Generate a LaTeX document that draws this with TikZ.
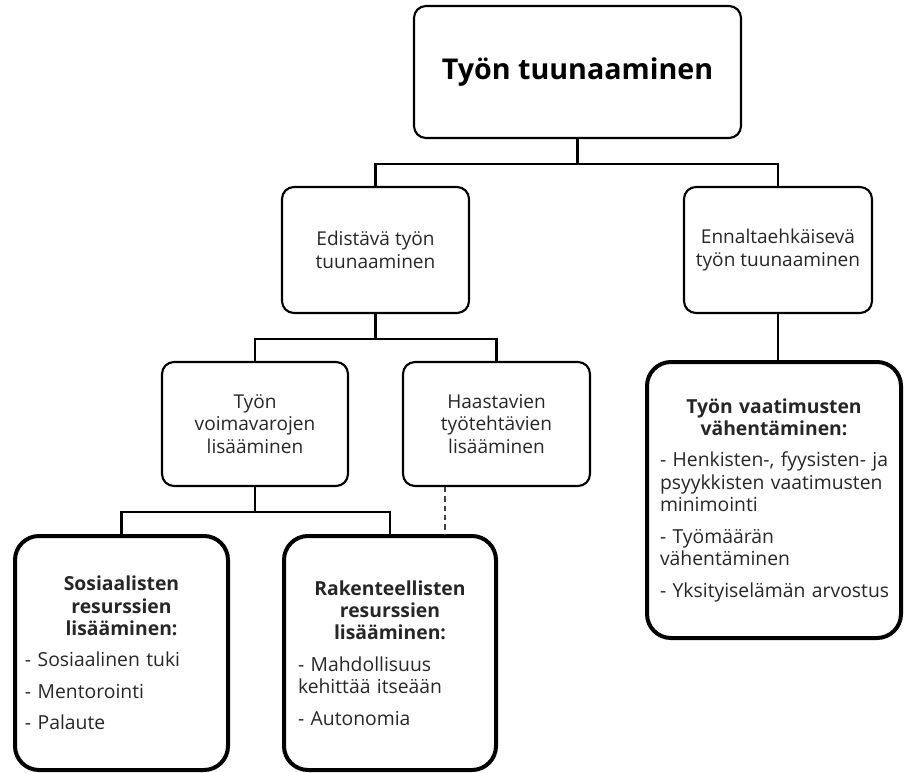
\documentclass[tikz,border=0pt]{standalone}
\usepackage{fontspec}
\setmainfont{Open Sans}
\usetikzlibrary{calc}
\newcommand{\mygap}{\par\vspace{6.8pt}}
\begin{document}
\begin{tikzpicture}[x=0.75pt,y=-0.75pt,
  thinbox/.style={draw=black, line width=1.6pt, rounded corners=9pt, align=center, inner sep=0pt, font=\fontsize{14.3}{16.8}\selectfont, text=black!85},
  thickbox/.style={draw=black, line width=3pt, rounded corners=18pt, inner sep=0pt, align=left, font=\fontsize{14.5}{16.8}\selectfont, text=black!85},
  conn/.style={draw=black, line width=1.6pt},
  dashconn/.style={draw=black!75, line width=1pt, dash pattern=on 4pt off 3pt}]
\useasboundingbox (0,0) rectangle (904,772);
% level 0
\node[thinbox, minimum width=327*0.75pt, minimum height=132*0.75pt, font=\fontsize{21.5}{26}\selectfont\bfseries, text=black] (top) at (577.5,72) {Työn tuunaaminen};
% level 1
\node[thinbox, minimum width=187*0.75pt, minimum height=126*0.75pt] (edi) at (375.5,250) {Edistävä työn\\tuunaaminen};
\node[thinbox, minimum width=188*0.75pt, minimum height=126*0.75pt] (enn) at (778,250) {Ennaltaehkäisevä\\työn tuunaaminen};
% level 2
\node[thinbox, minimum width=186*0.75pt, minimum height=124*0.75pt] (voim) at (255,424) {Työn\\voimavarojen\\lisääminen};
\node[thinbox, minimum width=187*0.75pt, minimum height=124*0.75pt] (haas) at (496.5,424) {Haastavien\\työtehtävien\\lisääminen};
% level 3
\node[thickbox, minimum width=213*0.75pt, minimum height=234*0.75pt, text width=193*0.75pt] (sos) at (121.5,653)
 {{\centering\bfseries Sosiaalisten\\resurssien\\lisääminen:\par}\vspace{6.8pt}- Sosiaalinen tuki\mygap- Mentorointi\mygap- Palaute};
\node[thickbox, minimum width=212*0.75pt, minimum height=234*0.75pt, text width=184*0.75pt] (rak) at (390,653)
 {{\centering\bfseries Rakenteellisten\\resurssien\\lisääminen:\par}\vspace{6.8pt}- Mahdollisuus\\kehittää itseään\mygap- Autonomia};
\node[thickbox, minimum width=254*0.75pt, minimum height=276*0.75pt, text width=228*0.75pt] (vaat) at (774,500)
 {{\centering\bfseries Työn vaatimusten\\vähentäminen:\par}\vspace{6.8pt}\mbox{- Henkisten-, fyysisten- ja}\\\mbox{psyykkisten vaatimusten}\\minimointi\mygap- Työmäärän\\vähentäminen\mygap\mbox{- Yksityiselämän arvostus}};
% connectors
\coordinate (j1) at ($(top.south)+(0,25)$);
\draw[conn] (top.south) -- (j1);
\draw[conn] (edi.north) |- (j1) -| (enn.north);
\coordinate (j2) at ($(edi.south)+(0,25)$);
\draw[conn] (edi.south) -- (j2);
\draw[conn] (voim.north) |- (j2) -| (haas.north);
\coordinate (j3) at ($(voim.south)+(0,25)$);
\draw[conn] (voim.south) -- (j3);
\draw[conn] (sos.north) |- (j3) -| (rak.north);
\coordinate (d1) at ([xshift=-38.6pt]haas.south);
\draw[dashconn] (d1) -- (d1 |- rak.north);
\draw[conn] (enn.south) -- (enn.south |- vaat.north);
\end{tikzpicture}
\end{document}
